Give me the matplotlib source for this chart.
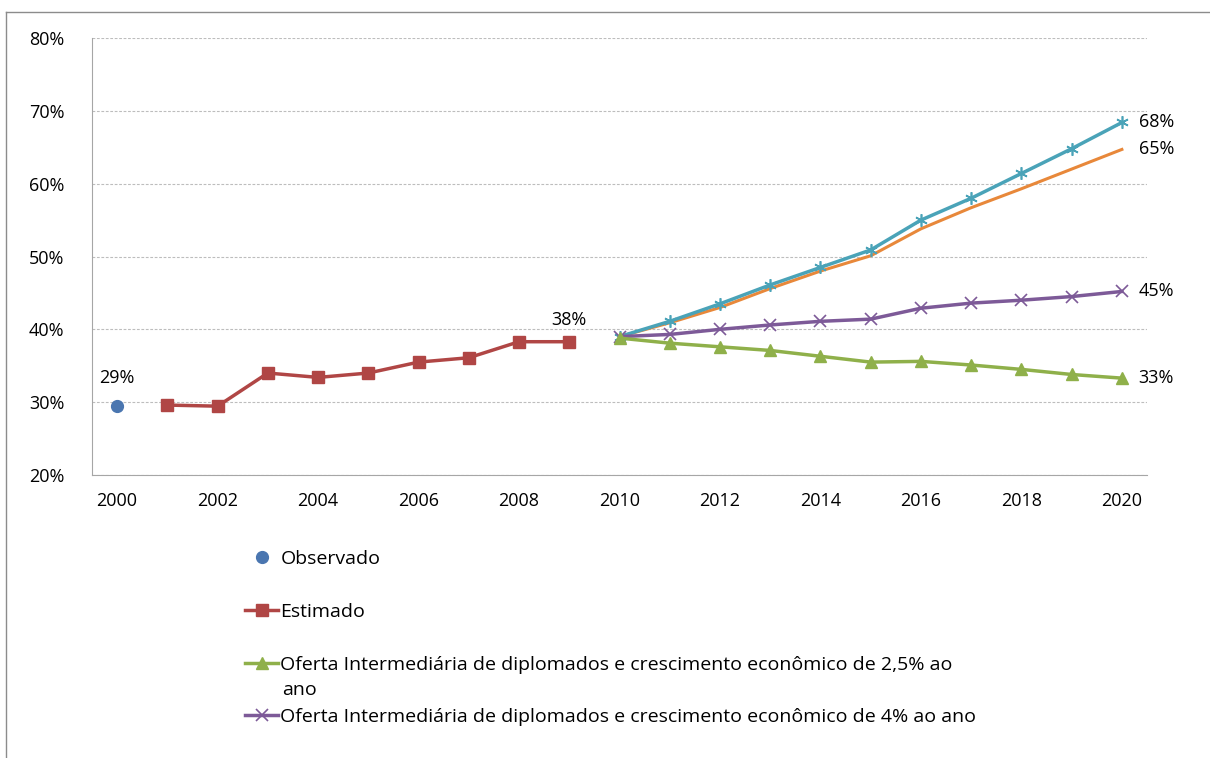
import matplotlib.pyplot as plt
from matplotlib.lines import Line2D

plt.rcParams['font.family'] = ['Open Sans', 'DejaVu Sans']

# data (fractions of 1)
obs_years = [2000]
obs_vals = [0.2945]

est_years = list(range(2001, 2010))
est_vals = [0.296, 0.2945, 0.340, 0.334, 0.340, 0.355, 0.361, 0.383, 0.383]

proj_years = list(range(2010, 2021))
alta_vals = [0.390, 0.411, 0.435, 0.461, 0.485, 0.509, 0.550, 0.580, 0.614, 0.648, 0.684]
alta2_vals = [0.390, 0.409, 0.430, 0.456, 0.480, 0.501, 0.538, 0.567, 0.593, 0.620, 0.647]
int4_vals = [0.390, 0.393, 0.400, 0.406, 0.411, 0.414, 0.429, 0.436, 0.440, 0.445, 0.452]
int25_vals = [0.388, 0.381, 0.376, 0.371, 0.363, 0.355, 0.356, 0.351, 0.345, 0.338, 0.333]

lbl_obs = "Observado"
lbl_est = "Estimado"
lbl_25 = "Oferta Intermediária de diplomados e crescimento econômico de 2,5% ao"
lbl_25b = "ano"
lbl_4 = "Oferta Intermediária de diplomados e crescimento econômico de 4% ao ano"

fig = plt.figure(figsize=(12.1, 7.58), dpi=100)
ax = fig.add_axes([92/1210, 1-475/758, (1147-92)/1210, (475-38)/758])

ax.plot(proj_years, alta2_vals, color='#e8883a', lw=2.2)
ax.plot(proj_years, alta_vals, color='#4aa3b8', lw=2.5, marker=(6, 2, 0), ms=9, mew=1.2)
l4, = ax.plot(proj_years, int4_vals, color='#7d5a98', lw=2.5, marker='x', ms=8, mew=1.2)
l25, = ax.plot(proj_years, int25_vals, color='#8fb04a', lw=2.5, marker='^', ms=8.5)
le, = ax.plot(est_years, est_vals, color='#b04645', lw=2.5, marker='s', ms=8.5)
lo, = ax.plot(obs_years, obs_vals, color='#4a76b0', ls='none', marker='o', ms=8.5)

ax.set_xlim(1999.5, 2020.5)
ax.set_ylim(0.2, 0.8)
ax.set_xticks(range(2000, 2021, 2))
ax.set_yticks([0.2, 0.3, 0.4, 0.5, 0.6, 0.7, 0.8])
ax.set_yticklabels(['20%', '30%', '40%', '50%', '60%', '70%', '80%'])
ax.tick_params(length=0, labelsize=13, colors='black')
ax.tick_params(axis='y', pad=20)
ax.tick_params(axis='x', pad=12)
ax.grid(axis='y', ls=(0, (2.5, 1.5)), color='#bdbdbd', lw=0.8)
ax.spines['top'].set_visible(False)
ax.spines['right'].set_visible(False)
for s in ['left', 'bottom']:
    ax.spines[s].set_color('#a6a6a6')

# data labels
ax.annotate('29%', (obs_years[0], obs_vals[0]), xytext=(0, 14), textcoords='offset points',
            ha='center', va='bottom', fontsize=13)
ax.annotate('38%', (est_years[-1], est_vals[-1]), xytext=(0, 9), textcoords='offset points',
            ha='center', va='bottom', fontsize=13)
for vals in [alta_vals, alta2_vals, int4_vals, int25_vals]:
    ax.annotate('%d%%' % round(vals[-1] * 100), (proj_years[-1], vals[-1]), xytext=(12, 0),
                textcoords='offset points', ha='left', va='center', fontsize=13)

# legend (only part shown in the reference), one entry per row
W, H = 1210, 758
rows = [(lo, lbl_obs, 559), (le, lbl_est, 612), (l25, lbl_25, 665), (l4, lbl_4, 717)]
for h, lab, yc in rows:
    fig.legend([h], [lab], loc='center left', bbox_to_anchor=(245/W, 1-yc/H),
               frameon=False, fontsize=14, handlelength=1.7,
               handletextpad=0.12, borderpad=0, borderaxespad=0)
fig.text(282/W, 1-690/H, lbl_25b, fontsize=14, va='center', ha='left')

# chart area frame
fig.add_artist(Line2D([6/W, 6/W], [0, 1-12/H], transform=fig.transFigure, color='#8c8c8c', lw=1))
fig.add_artist(Line2D([6/W, 1], [1-12/H, 1-12/H], transform=fig.transFigure, color='#8c8c8c', lw=1))

fig.savefig('out.png', dpi=100)
